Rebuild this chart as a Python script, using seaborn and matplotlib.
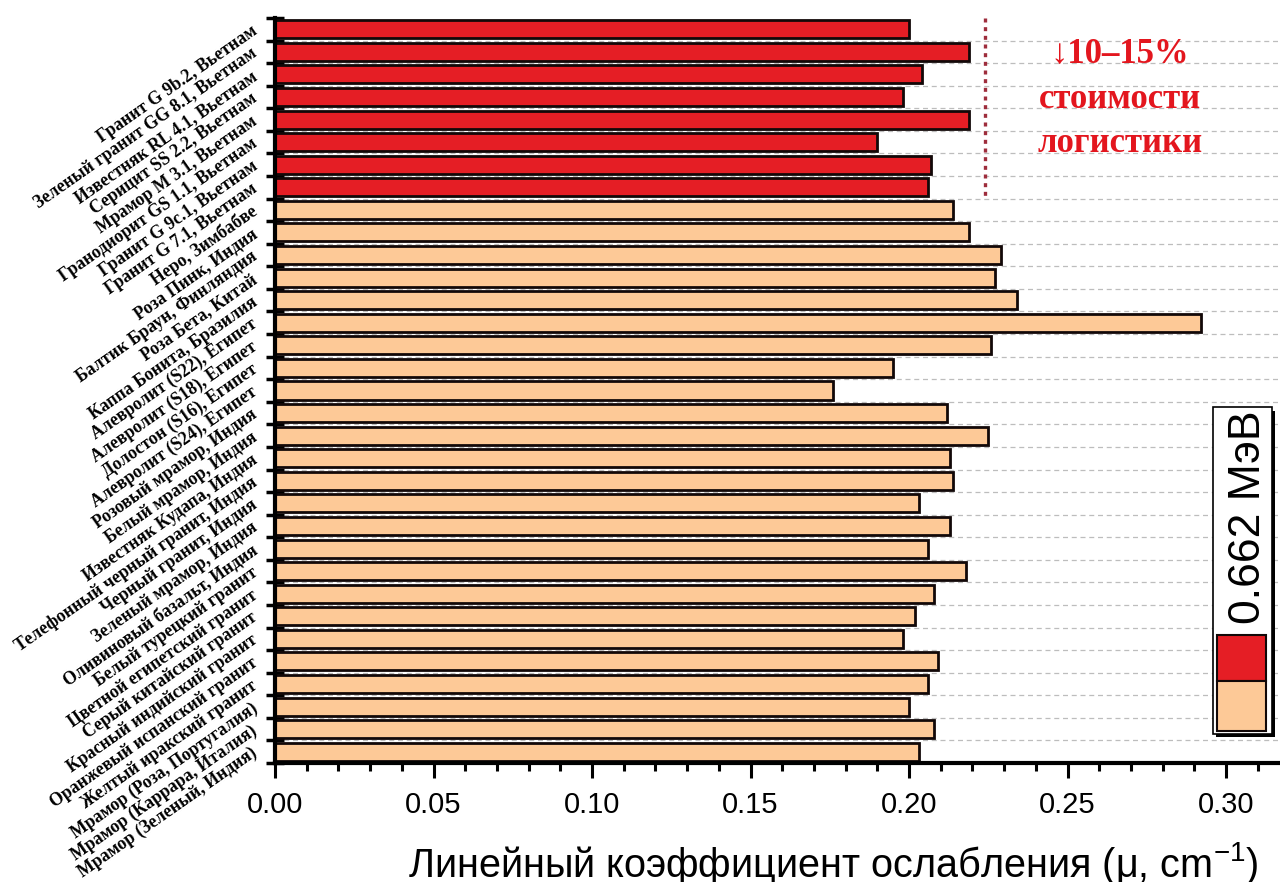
import numpy as np
import pandas as pd
import matplotlib
matplotlib.use("Agg")
import matplotlib.pyplot as plt
import seaborn as sns
from matplotlib.patches import Rectangle
from matplotlib.ticker import MultipleLocator, StrMethodFormatter

# Stone samples, top to bottom
materials = [
    "Гранит G 9b.2, Вьетнам",
    "Зеленый гранит GG 8.1, Вьетнам",
    "Известняк RL 4.1, Вьетнам",
    "Серицит SS 2.2, Вьетнам",
    "Мрамор M 3.1, Вьетнам",
    "Гранодиорит GS 1.1, Вьетнам",
    "Гранит G 9c.1, Вьетнам",
    "Гранит G 7.1, Вьетнам",
    "Неро, Зимбабве",
    "Роза Пинк, Индия",
    "Балтик Браун, Финляндия",
    "Роза Бета, Китай",
    "Каппа Бонита, Бразилия",
    "Алевролит (S22), Египет",
    "Алевролит (S18), Египет",
    "Долостон (S16), Египет",
    "Алевролит (S24), Египет",
    "Розовый мрамор, Индия",
    "Белый мрамор, Индия",
    "Известняк Кудапа, Индия",
    "Телефонный черный гранит, Индия",
    "Черный гранит, Индия",
    "Зеленый мрамор, Индия",
    "Оливиновый базальт, Индия",
    "Белый турецкий гранит",
    "Цветной египетский гранит",
    "Серый китайский гранит",
    "Красный индийский гранит",
    "Оранжевый испанский гранит",
    "Желтый иракский гранит",
    "Мрамор (Роза, Португалия)",
    "Мрамор (Каррара, Италия)",
    "Мрамор (Зеленый, Индия)",
]

# Linear attenuation coefficient at 0.662 MeV, cm^-1
attenuation = [
    0.200, 0.219, 0.204, 0.198, 0.219, 0.190, 0.207, 0.206,
    0.214, 0.219, 0.229, 0.227, 0.234, 0.292, 0.226, 0.195,
    0.176, 0.212, 0.225, 0.213, 0.214, 0.203, 0.213, 0.206,
    0.218, 0.208, 0.202, 0.198, 0.209, 0.206, 0.200, 0.208,
    0.203,
]

origin_group = ["Вьетнам"] * 8 + ["Прочие"] * 25

palette = {"Вьетнам": "#E51E25", "Прочие": "#FDC997"}
logistics_threshold = 0.224

sns.set_style("ticks")
plt.rcParams["font.family"] = ["Liberation Sans", "DejaVu Sans"]
plt.rcParams["mathtext.fontset"] = "custom"
plt.rcParams["mathtext.rm"] = "Liberation Sans"
plt.rcParams["mathtext.it"] = "Liberation Sans:italic"
plt.rcParams["mathtext.bf"] = "Liberation Sans:bold"
for key in ("text.color", "axes.labelcolor", "xtick.color", "ytick.color",
            "axes.edgecolor"):
    plt.rcParams[key] = "black"

W, H = 1280, 882
fig = plt.figure(figsize=(W / 100, H / 100), dpi=100)
ax = fig.add_axes([275 / W, 1 - 763 / H, 1005 / W, (763 - 18) / H])

df = pd.DataFrame({"material": materials, "mu": attenuation, "group": origin_group})
sns.barplot(
    data=df, x="mu", y="material", hue="group", palette=palette,
    dodge=False, width=0.8, saturation=1, edgecolor="#120808",
    linewidth=2.0, legend=False, orient="h", ax=ax,
)

# dashed separators between rows
for b in np.arange(0.5, len(materials) - 0.5, 1.0):
    ax.axhline(b, color="#bdbdbd", ls=(0, (4, 3)), lw=0.9, zorder=0.5)

# threshold line next to the highlighted group
ax.vlines(logistics_threshold, -0.5, 7.5, colors="#9e2d3c",
          linestyles=(0, (1.2, 1.4)), lw=2.4, zorder=3)

# axes styling
ax.set_xlim(0, 0.317)
ax.set_ylim(len(materials) - 0.5, -0.5)
ax.xaxis.set_major_locator(MultipleLocator(0.05))
ax.xaxis.set_minor_locator(MultipleLocator(0.01))
ax.xaxis.set_major_formatter(StrMethodFormatter("{x:.2f}"))
ax.tick_params(axis="x", which="major", direction="out", length=11, width=2.2,
               labelsize=21, pad=9)
ax.tick_params(axis="x", which="minor", direction="out", length=5.5, width=2.2)

ax.set_yticks(range(len(materials)))
ax.set_yticklabels(materials, rotation=35, ha="right", va="center",
                   rotation_mode="anchor", fontfamily="Liberation Serif",
                   fontweight="bold", fontsize=12.8)
ax.set_yticks(np.arange(-0.5, len(materials), 1.0), minor=True)
ax.tick_params(axis="y", which="major", length=0, pad=14)
ax.tick_params(axis="y", which="minor", direction="inout", length=13, width=2.5)

ax.set_xlabel("")
ax.set_ylabel("")
sns.despine(ax=ax)
ax.spines["left"].set_linewidth(3)
ax.spines["bottom"].set_linewidth(3)

# annotation about logistics cost
fig.text(1120 / W, 1 - 99 / H, "↓10–15%\nстоимости\nлогистики",
         ha="center", va="center", multialignment="center",
         color="#E3161E", fontsize=25, fontweight="bold", linespacing=1.45,
         family=["Liberation Serif", "DejaVu Serif"])

# x axis title
fig.text(833 / W, 1 - 877 / H, r"Линейный коэффициент ослабления (μ, cm$^{-1}$)",
         ha="center", va="baseline", fontsize=28.5)


# vertical legend box
def px_rect(x0, y0, x1, y1, **kw):
    fig.add_artist(Rectangle((x0 / W, 1 - y1 / H), (x1 - x0) / W, (y1 - y0) / H,
                             transform=fig.transFigure, **kw))


px_rect(1216, 411, 1275, 737, fc="black", lw=0)
px_rect(1213, 407, 1272, 734, fc="white", ec="black", lw=1.2)
px_rect(1217, 635, 1266, 681, fc=palette["Вьетнам"], ec="#120808", lw=1.5)
px_rect(1217, 681, 1266, 731, fc=palette["Прочие"], ec="#120808", lw=1.5)
fig.text(1249 / W, 1 - 517 / H, "0.662 МэВ", rotation=90, ha="center",
         va="center", fontsize=32)

fig.savefig("out.png", dpi=100)
